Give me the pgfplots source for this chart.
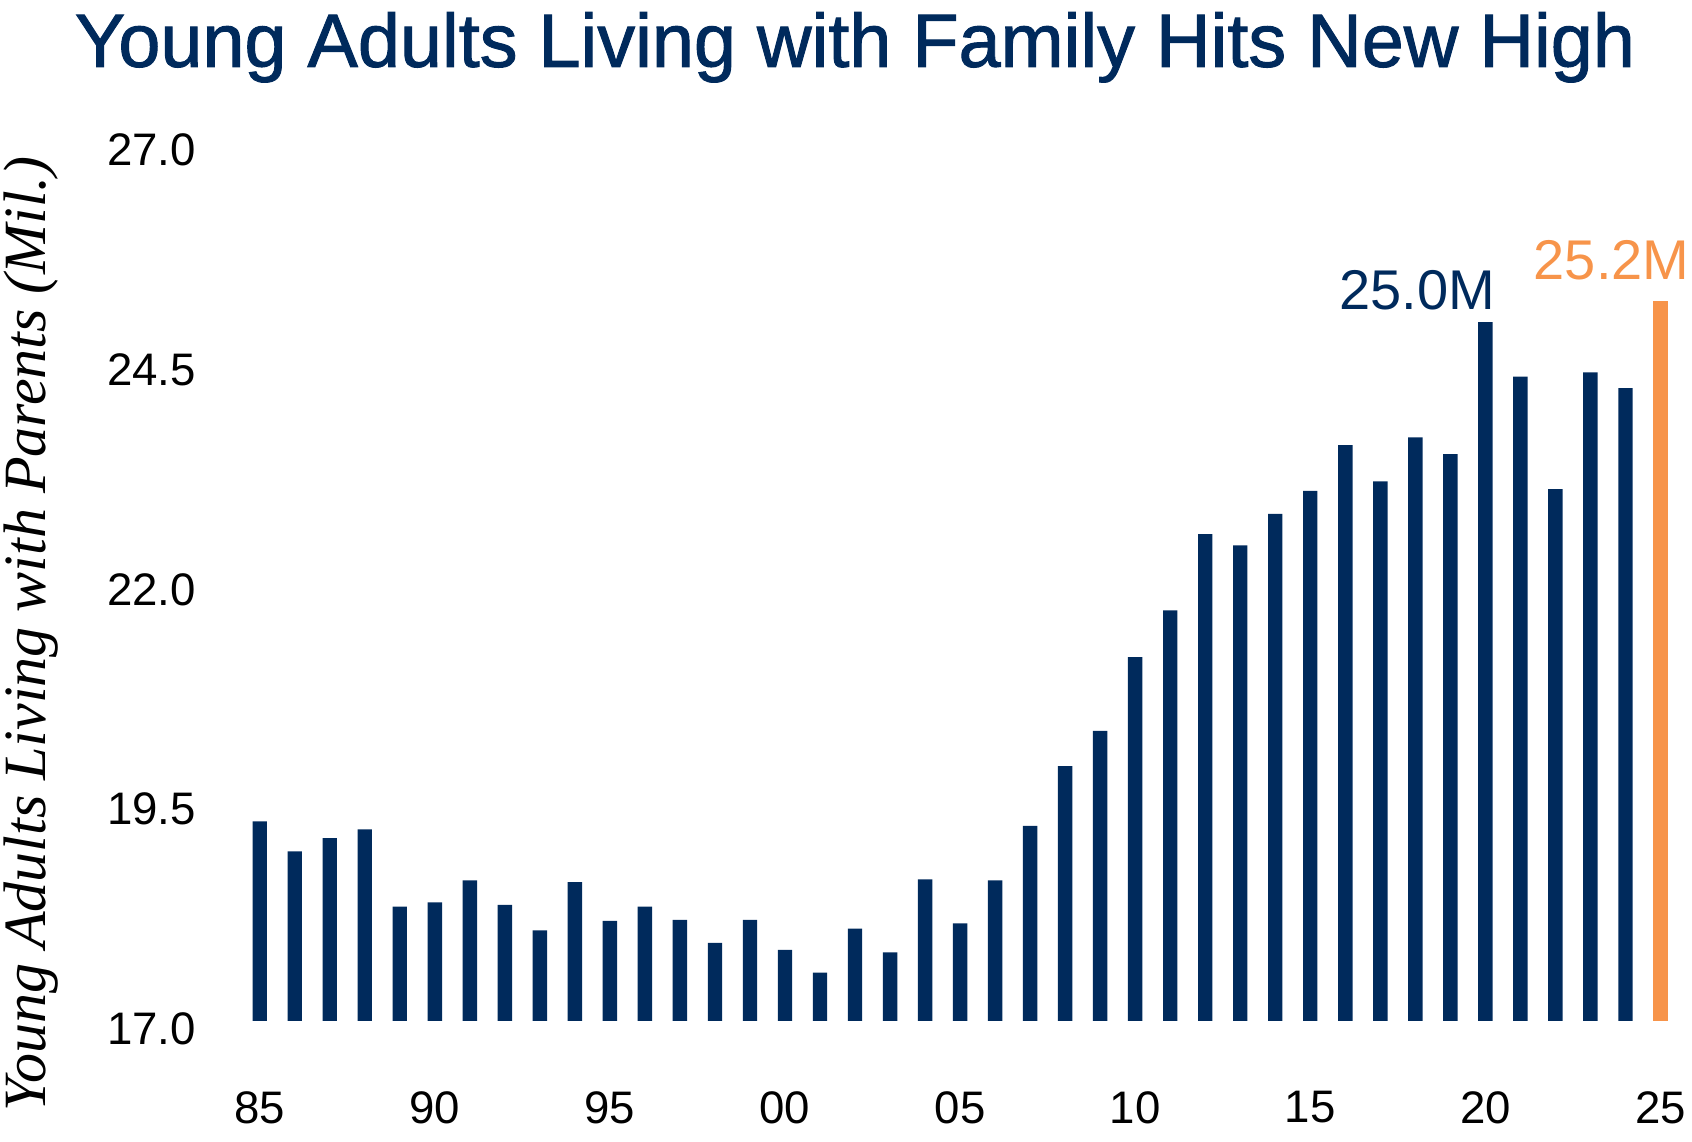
\documentclass[border=0pt]{standalone}
\usepackage{fontspec}
\setmainfont{Liberation Sans}
\newfontfamily\titlefont{Liberation Sans}[BoldFont=Liberation Sans, BoldFeatures={FakeBold=1.3}]
\newfontfamily\labelfont{Liberation Serif}
\usepackage{pgfplots}
\pgfplotsset{compat=1.18}
\definecolor{navy}{HTML}{002A5C}
\definecolor{orangebar}{HTML}{F7944A}
\begin{document}
\begin{tikzpicture}
\begin{axis}[
  scale only axis,
  width=358.95pt, height=219.75pt,
  xmin=1984.5, xmax=2025.5,
  ymin=17, ymax=27,
  enlargelimits=false,
  clip mode=individual,
  axis line style={draw=none},
  major tick length=0pt,
  tick style={draw=none},
  xtick={1985,1990,...,2025},
  xticklabels={85,90,95,00,05,10,15,20,25},
  ytick={17,19.5,22,24.5,27},
  yticklabels={17.0,19.5,22.0,24.5,27.0},
  /pgf/number format/assume math mode=true,
  ticklabel style={font=\fontsize{11.4}{13}\selectfont, text=black},
  yticklabel style={anchor=east, inner sep=0pt, xshift=-11.4pt, yshift=-2pt},
  xticklabel style={anchor=north, inner sep=0pt, yshift=-17.4pt},
  title={Young Adults Living with Family Hits New High},
  title style={at={(axis description cs:0.4268,1.0819)}, anchor=base, inner sep=0pt,
    yshift=-5.2pt,
    font=\titlefont\bfseries\fontsize{18.9}{22}\selectfont, text=navy},
  ylabel={Young Adults Living with Parents (Mil.)},
  ylabel style={at={(axis description cs:-0.1373,0.4403)}, anchor=base, inner sep=0pt,
    font=\labelfont\itshape\fontsize{15}{18}\selectfont, text=black},
]
\addplot[ybar, bar width=3.6pt, fill=navy, draw=none] coordinates {
(1985,19.27) (1986,18.93) (1987,19.08) (1988,19.18) (1989,18.30)
(1990,18.35) (1991,18.60) (1992,18.32) (1993,18.03) (1994,18.58)
(1995,18.14) (1996,18.30) (1997,18.15) (1998,17.89) (1999,18.15)
(2000,17.81) (2001,17.55) (2002,18.05) (2003,17.78) (2004,18.61)
(2005,18.11) (2006,18.60) (2007,19.22) (2008,19.90) (2009,20.30)
(2010,21.14) (2011,21.67) (2012,22.54) (2013,22.41) (2014,22.77)
(2015,23.03) (2016,23.55) (2017,23.14) (2018,23.64) (2019,23.45)
(2020,24.95) (2021,24.33) (2022,23.05) (2023,24.38) (2024,24.20)
};
\addplot[ybar, bar width=3.6pt, fill=orangebar, draw=none] coordinates {(2025,25.19)};
\node[anchor=base east, inner sep=0pt, text=navy, font=\fontsize{14}{16}\selectfont]
  at (axis cs:2020.3,25.09) {25.0M};
\node[anchor=base east, inner sep=0pt, text=orangebar, font=\fontsize{14}{16}\selectfont]
  at (axis cs:2025.85,25.43) {25.2M};
\end{axis}
\pgfresetboundingbox
\path (-60.55pt,-30.25pt) rectangle (362.45pt,255.25pt);
\end{tikzpicture}
\end{document}
